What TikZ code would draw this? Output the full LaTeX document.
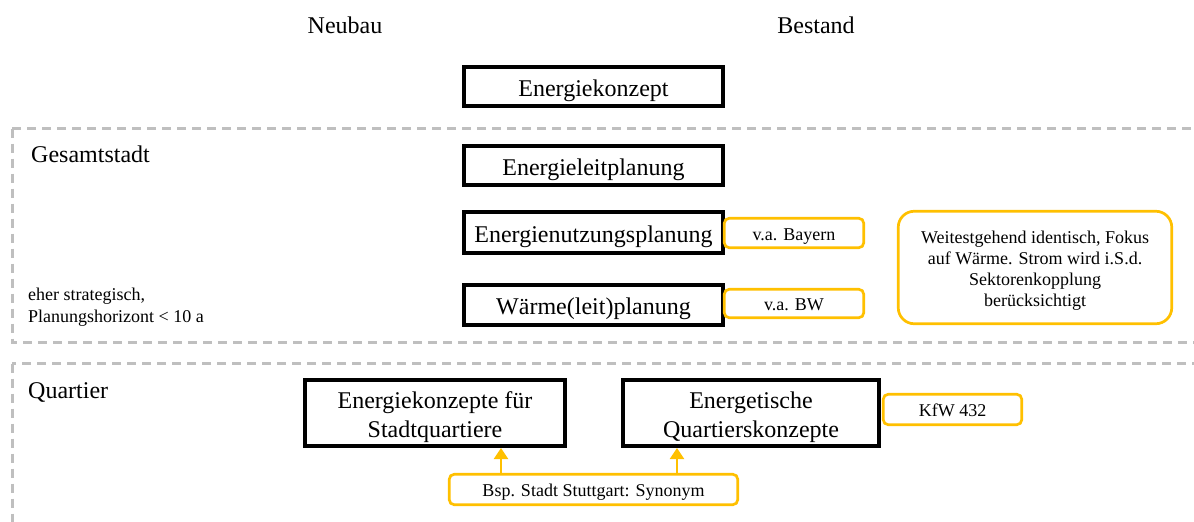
\documentclass[tikz,border=0pt]{standalone}
\usepackage{fontspec}
\setmainfont{Liberation Serif}
\usetikzlibrary{arrows.meta}
\definecolor{amber}{RGB}{255,192,0}
\definecolor{dashgray}{RGB}{191,191,191}
\newcommand{\bigtxt}{\fontsize{24}{29}\selectfont}
\newcommand{\smalltxt}{\fontsize{18}{21}\selectfont}
\tikzset{
  planbox/.style={draw=black, line width=4pt, fill=white, inner sep=0pt,
    align=center, font=\bigtxt, text height=22pt, text depth=3pt},
  % two-line boxes: the box baseline sits on the last line
  planbox2/.style={planbox, text height=51pt},
  notebox/.style={draw=amber, line width=2.7pt, rounded corners=5pt, fill=white,
    inner sep=0pt, align=center, font=\smalltxt, text height=14pt, text depth=0pt},
  zone/.style={draw=dashgray, line width=3pt, dash pattern=on 9pt off 6pt},
  heading/.style={inner sep=0pt, font=\bigtxt},
  pfeil/.style={draw=amber, line width=2pt, -{Triangle[width=14pt,length=11pt]}}
}
\begin{document}
\begin{tikzpicture}[x=1pt, y=-1pt]
\useasboundingbox (0,0) rectangle (1194,522);
\clip (0,0) rectangle (1194,522);

% zones
\draw[zone] (12,128.5) rectangle (1220,342.5);
\draw[zone] (12,363.5) rectangle (1220,560);

% column headings
\node[heading] (neubau) at (345,25) {Neubau};
\node[heading] (bestand) at (816,25) {Bestand};

% zone titles
\node[heading, anchor=west] (gesamt) at (31,154) {Gesamtstadt};
\node[heading, anchor=west] (quartier) at (28,392) {Quartier};
\node[inner sep=0pt, anchor=west, align=left, font=\fontsize{18}{22}\selectfont] (horizont) at (28,307)
  {eher strategisch,\\Planungshorizont < 10 a};

% city-wide planning instruments
\node[planbox, minimum width=259pt, minimum height=39pt] (ek) at (593.5,86.5) {Energiekonzept};
\node[planbox, minimum width=259pt, minimum height=39pt] (elp) at (593.5,165.5) {Energieleitplanung};
\node[planbox, minimum width=259pt, minimum height=41pt] (enp) at (593.5,232.5) {Energienutzungsplanung};
\node[planbox, minimum width=259pt, minimum height=40pt] (wlp) at (593.5,305) {Wärme(leit)planung};

% remarks
\node[notebox, minimum width=139.5pt, minimum height=29.5pt] (bayern) at (794,233) {v.a. Bayern};
\node[notebox, minimum width=139.5pt, minimum height=28.5pt] (bw) at (794,303.5) {v.a. BW};
\node[notebox, rounded corners=16pt, text height=77pt, minimum width=273.5pt, minimum height=112.5pt] (ident) at (1035,267.5)
  {Weitestgehend identisch, Fokus\\auf Wärme. Strom wird i.S.d.\\Sektorenkopplung\\berücksichtigt};

% district level
\node[planbox2, minimum width=260pt, minimum height=66pt] (ekq) at (435,413)
  {Energiekonzepte für\\Stadtquartiere};
\node[planbox2, minimum width=256pt, minimum height=66pt] (eqk) at (751,413)
  {Energetische\\Quartierskonzepte};
\node[notebox, minimum width=138.5pt, minimum height=30.5pt] (kfw) at (952.5,409.5) {KfW 432};
\node[notebox, minimum width=288.5pt, minimum height=30.5pt] (bsp) at (593.5,489.5) {Bsp. Stadt Stuttgart: Synonym};

% synonym arrows
\draw[pfeil] (bsp.north -| 501,0) -- (ekq.south -| 501,0);
\draw[pfeil] (bsp.north -| 677,0) -- (eqk.south -| 677,0);
\end{tikzpicture}
\end{document}
